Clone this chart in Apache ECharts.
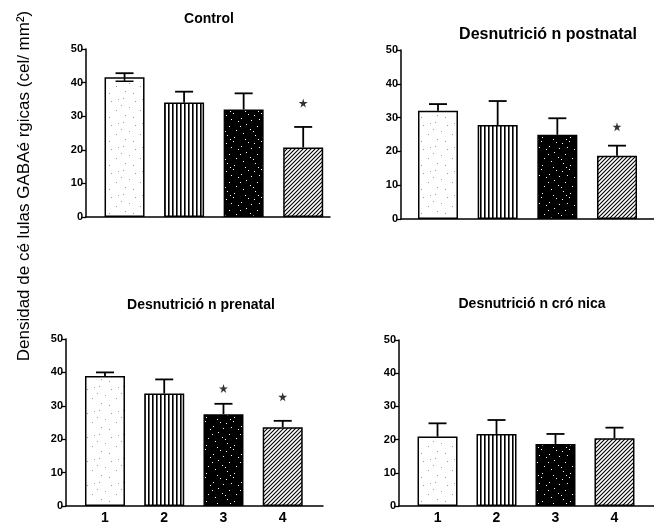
<!DOCTYPE html>
<html>
<head>
<meta charset="utf-8">
<script src="https://cdn.jsdelivr.net/npm/echarts@6/dist/echarts.min.js"></script>
<style>
  html, body { margin: 0; padding: 0; background: #fff; }
  #main { width: 654px; height: 526px; }
</style>
</head>
<body>
<div id="main"></div>
<script>
// grupos 1-4
var categories = [1, 2, 3, 4];

var panelTitles = ['Control', 'Desnutrició n postnatal', 'Desnutrició n prenatal', 'Desnutrició n cró nica'];
var yTitle = 'Densidad de cé lulas GABAé rgicas (cel/ mm²)';

// medias
var controlMeans   = [41.6, 34.1, 32.0, 20.7];
var postnatalMeans = [32.0, 27.8, 24.9, 18.7];
var prenatalMeans  = [38.9, 33.7, 27.5, 23.6];
var cronicaMeans   = [20.9, 21.7, 18.7, 20.4];

// error (+)
var controlErr   = [1.2, 3.2, 4.8, 6.1];
var postnatalErr = [2.0, 7.1, 4.9, 3.0];
var prenatalErr  = [1.1, 4.2, 3.1, 1.9];
var cronicaErr   = [4.0, 4.2, 3.0, 3.2];

// error (-) solo visible en la barra blanca del control
var controlErrLow = [1.2, 0, 0, 0];

// asteriscos (altura en unidades del eje)
var controlStars   = [null, null, null, 33.9];
var postnatalStars = [null, null, null, 27.3];
var prenatalStars  = [null, null, 35.2, 32.7];
var cronicaStars   = [null, null, null, null];

// ---- texturas de las barras ----
function makeCanvas(w, h, bg) {
    var c = document.createElement('canvas');
    c.width = w; c.height = h;
    var ctx = c.getContext('2d');
    ctx.fillStyle = bg;
    ctx.fillRect(0, 0, w, h);
    return c;
}
var dotPts = [[3,2],[15,5],[9,11],[20,14],[5,19],[13,21],[22,3],[1,9]];
var dotsCanvas = makeCanvas(24, 24, '#fff');
(function () {
    var ctx = dotsCanvas.getContext('2d');
    ctx.fillStyle = '#999';
    dotPts.forEach(function (p) { ctx.fillRect(p[0], p[1], 1, 1); });
})();

var stripeCanvas = makeCanvas(4, 8, '#fff');
(function () {
    var ctx = stripeCanvas.getContext('2d');
    ctx.fillStyle = '#000';
    ctx.fillRect(0, 0, 1.6, 8);
})();

var speckPts = [[2,3],[9,1],[17,6],[22,12],[5,14],[12,18],[19,21],[3,23],[14,9],[7,7],[24,2],[26,17],[10,25],[21,27],[1,19],[16,14],[27,8],[6,27]];
var speckCanvas = makeCanvas(28, 28, '#000');
(function () {
    var ctx = speckCanvas.getContext('2d');
    ctx.fillStyle = '#fff';
    speckPts.forEach(function (p) { ctx.fillRect(p[0], p[1], 1, 1); });
})();

var hatchCanvas = makeCanvas(4, 4, '#fff');
(function () {
    var ctx = hatchCanvas.getContext('2d');
    ctx.strokeStyle = '#000';
    ctx.lineWidth = 1.1;
    ctx.beginPath();
    ctx.moveTo(-1, 5); ctx.lineTo(5, -1);
    ctx.moveTo(-3, 3); ctx.lineTo(3, -3);
    ctx.moveTo(1, 7); ctx.lineTo(7, 1);
    ctx.stroke();
})();

var fills = [dotsCanvas, stripeCanvas, speckCanvas, hatchCanvas].map(function (c) {
    return { image: c, repeat: 'repeat' };
});

// ---- paneles ----
var panels = [
    { means: controlMeans,   err: controlErr,   low: controlErrLow, stars: controlStars },
    { means: postnatalMeans, err: postnatalErr, low: [0,0,0,0],     stars: postnatalStars },
    { means: prenatalMeans,  err: prenatalErr,  low: [0,0,0,0],     stars: prenatalStars },
    { means: cronicaMeans,   err: cronicaErr,   low: [0,0,0,0],     stars: cronicaStars }
];

var grids = [
    { left: 86,  top: 49,  width: 244, height: 168 },
    { left: 401, top: 50,  width: 253, height: 169 },
    { left: 66,  top: 339, width: 257, height: 167 },
    { left: 399, top: 340, width: 255, height: 166 }
];
var xRanges = [[0.353, 4.45], [0.38, 4.62], [0.342, 4.68], [0.347, 4.67]];
var titlePos = [[209, 19, 14], [548, 35, 16], [201, 305, 14], [532, 304, 14]];

var FONT = '"Liberation Sans", Arial, sans-serif';
var starPath = 'path://M50,0 L61,35 L98,35 L68,57 L79,91 L50,70 L21,91 L32,57 L2,35 L39,35 Z';

var xAxes = [], yAxes = [], series = [], graphics = [];

panels.forEach(function (p, i) {
    var bottomRow = i >= 2;
    xAxes.push({
        type: 'value',
        gridIndex: i,
        min: xRanges[i][0],
        max: xRanges[i][1],
        axisLine: { show: true, lineStyle: { color: '#000', width: 1.5 } },
        axisTick: { show: false },
        splitLine: { show: false },
        axisLabel: {
            show: bottomRow,
            customValues: categories,
            color: '#000',
            fontFamily: FONT,
            fontWeight: 'bold',
            fontSize: 14,
            margin: 5
        }
    });
    yAxes.push({
        type: 'value',
        gridIndex: i,
        min: 0,
        max: 50,
        interval: 10,
        axisLine: { show: true, lineStyle: { color: '#000', width: 1.5 } },
        axisTick: { show: true, length: 5, lineStyle: { color: '#000', width: 1.3 } },
        splitLine: { show: false },
        axisLabel: {
            color: '#000',
            fontFamily: FONT,
            fontWeight: 'bold',
            fontSize: 11,
            margin: 3,
            verticalAlign: 'middle',
            padding: [0, 0, 5, 0]
        }
    });

    series.push({
        type: 'bar',
        xAxisIndex: i,
        yAxisIndex: i,
        barWidth: 40,
        animation: false,
        itemStyle: { borderColor: '#000', borderWidth: 1.5 },
        data: p.means.map(function (v, j) {
            return { value: [categories[j], v], itemStyle: { color: fills[j] } };
        })
    });

    series.push({
        type: 'custom',
        xAxisIndex: i,
        yAxisIndex: i,
        animation: false,
        z: 5,
        renderItem: function (params, api) {
            var x = api.value(0), m = api.value(1), e = api.value(2), lo = api.value(3);
            var pm = api.coord([x, m]);
            var pt = api.coord([x, m + e]);
            var kids = [
                { type: 'line', shape: { x1: pm[0], y1: pm[1], x2: pt[0], y2: pt[1] }, style: { stroke: '#000', lineWidth: 1.8 } },
                { type: 'line', shape: { x1: pt[0] - 9, y1: pt[1], x2: pt[0] + 9, y2: pt[1] }, style: { stroke: '#000', lineWidth: 1.8 } }
            ];
            if (lo > 0) {
                var pl = api.coord([x, m - lo]);
                kids.push({ type: 'line', shape: { x1: pm[0], y1: pm[1], x2: pl[0], y2: pl[1] }, style: { stroke: '#000', lineWidth: 1.5 } });
                kids.push({ type: 'line', shape: { x1: pl[0] - 9, y1: pl[1], x2: pl[0] + 9, y2: pl[1] }, style: { stroke: '#000', lineWidth: 1.5 } });
            }
            return { type: 'group', children: kids };
        },
        data: p.means.map(function (v, j) {
            return [categories[j], v, p.err[j], p.low[j]];
        })
    });

    var starData = [];
    p.stars.forEach(function (s, j) {
        if (s !== null) starData.push([categories[j], s]);
    });
    series.push({
        type: 'scatter',
        xAxisIndex: i,
        yAxisIndex: i,
        animation: false,
        symbol: starPath,
        symbolSize: 9,
        itemStyle: { color: '#000' },
        data: starData
    });

    graphics.push({
        type: 'text',
        x: titlePos[i][0],
        y: titlePos[i][1],
        style: {
            text: panelTitles[i],
            font: 'bold ' + titlePos[i][2] + 'px ' + FONT,
            fill: '#000',
            textAlign: 'center',
            textVerticalAlign: 'middle'
        }
    });
});

graphics.push({
    type: 'text',
    x: 24,
    y: 186,
    rotation: Math.PI / 2,
    style: {
        text: yTitle,
        font: '17px ' + FONT,
        fill: '#000',
        textAlign: 'center',
        textVerticalAlign: 'middle'
    }
});

var option = {
    backgroundColor: '#fff',
    animation: false,
    grid: grids,
    xAxis: xAxes,
    yAxis: yAxes,
    series: series,
    graphic: { elements: graphics }
};

echarts.init(document.getElementById('main')).setOption(option);
</script>
</body>
</html>
